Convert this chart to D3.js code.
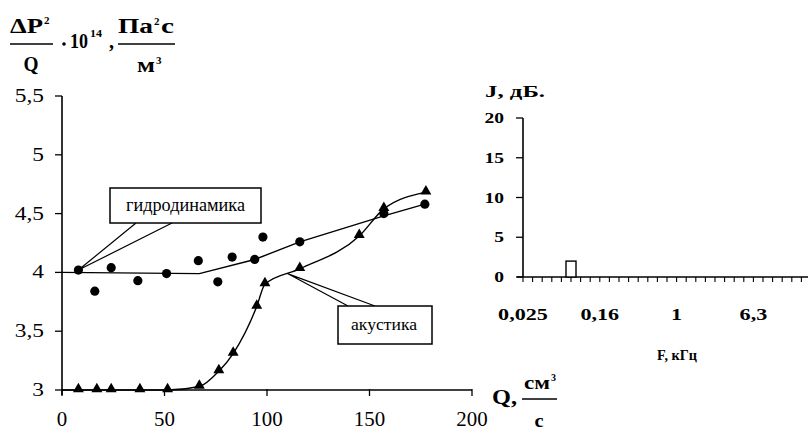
<!DOCTYPE html>
<html><head><meta charset="utf-8">
<script src="https://cdn.jsdelivr.net/npm/d3@7"></script>
<style>
html,body{margin:0;padding:0;background:#fff;}
svg text{font-family:"Liberation Serif","Tinos","Times New Roman",serif !important;}
</style>
</head><body>
<svg id="c" width="808" height="435"></svg>
<script>
// ---- Left chart data ----
const hydroQ = [8, 16, 24, 37, 51, 66.5, 76, 83, 94, 98, 116, 157, 177];
const hydroV = [4.02, 3.84, 4.04, 3.93, 3.99, 4.10, 3.92, 4.13, 4.11, 4.30, 4.26, 4.50, 4.58];
const hydroFitQ = [0, 67, 94, 116, 157, 177];
const hydroFitV = [4.0, 3.99, 4.11, 4.26, 4.48, 4.58];
const acQ = [8, 17, 24, 38, 51.5, 67, 76.5, 83.5, 95, 99, 116, 145, 157, 177.5];
const acV = [3.0, 3.0, 3.0, 3.0, 3.0, 3.03, 3.16, 3.31, 3.71, 3.90, 4.03, 4.31, 4.54, 4.68];
const acFitQ = [0, 8, 17, 24, 38, 51.5, 67, 76.5, 83.5, 95, 99, 116, 145, 157, 177.5];
const acFitV = [3.0, 3.0, 3.0, 3.0, 3.0, 3.0, 3.03, 3.16, 3.31, 3.71, 3.90, 4.03, 4.31, 4.54, 4.68];
const leftXTicks = [0, 50, 100, 150, 200];
const leftYTicks = [3, 3.5, 4, 4.5, 5, 5.5];
const leftYTickLabels = ["3", "3,5", "4", "4,5", "5", "5,5"];
const annotText = ["гидродинамика", "акустика"];
const annotQ = [8, 110];
const annotV = [4.02, 3.99];

// ---- Right chart data ----
const bands = ["0,025","0,0315","0,04","0,05","0,063","0,08","0,1","0,125","0,16","0,2","0,25","0,315","0,4","0,5","0,63","0,8","1","1,25","1,6","2","2,5","3,15","4","5","6,3","8","10","12,5","16","20","25"];
const levels = [0,0,0,0,0,2,0,0,0,0,0,0,0,0,0,0,0,0,0,0,0,0,0,0,0,0,0,0,0,0,0];
const bandLabelsShown = ["0,025","0,16","1","6,3"];
const rightYTicks = [0, 5, 10, 15, 20];

const svg = d3.select("#c");

function label(parent, str, x, y, o) {
  const t = parent.append("text")
    .attr("x", x).attr("y", y)
    .attr("font-family", "Liberation Serif")
    .style("font-size", o.size + "px")
    .attr("text-anchor", o.anchor || "start")
    .text(str);
  if (o.bold) t.style("font-weight", "bold");
  let w = o.width;
  if (!w && o.sx) w = t.node().getComputedTextLength() * o.sx;
  if (w) t.attr("textLength", w).attr("lengthAdjust", "spacingAndGlyphs");
  return t;
}

// ===== Left chart =====
const x = d3.scaleLinear().domain([0, 200]).range([62, 472]);
const y = d3.scaleLinear().domain([3, 5.5]).range([390, 96]);
const L = svg.append("g");

L.append("line").attr("x1", x(0)).attr("x2", x(0)).attr("y1", y(5.5)).attr("y2", y(3) + 5)
  .attr("stroke", "#000").attr("stroke-width", 1.6);
L.append("line").attr("x1", x(0)).attr("x2", x(200)).attr("y1", y(3)).attr("y2", y(3))
  .attr("stroke", "#000").attr("stroke-width", 1.6);
L.selectAll(".yt").data(leftYTicks).enter().append("line")
  .attr("x1", x(0) - 7).attr("x2", x(0)).attr("y1", d => y(d)).attr("y2", d => y(d))
  .attr("stroke", "#000").attr("stroke-width", 1.3);
L.selectAll(".xt").data(leftXTicks).enter().append("line")
  .attr("x1", d => x(d)).attr("x2", d => x(d)).attr("y1", y(3) - 1).attr("y2", y(3) + 6)
  .attr("stroke", "#000").attr("stroke-width", 1.3);
leftYTicks.forEach((v, i) => label(L, leftYTickLabels[i], 44, y(v) + 6, {size: 18, sx: 1.3, anchor: "end"}));
leftXTicks.forEach(v => label(L, String(v), x(v), 426, {size: 22, sx: 0.95, anchor: "middle"}));

const hydroFit = hydroFitQ.map((q, i) => [q, hydroFitV[i]]);
const acFit = acFitQ.map((q, i) => [q, acFitV[i]]);
L.append("path").datum(hydroFit)
  .attr("d", d3.line().x(d => x(d[0])).y(d => y(d[1])))
  .attr("fill", "none").attr("stroke", "#000").attr("stroke-width", 1.4);
L.append("path").datum(acFit)
  .attr("d", d3.line().x(d => x(d[0])).y(d => y(d[1])).curve(d3.curveMonotoneX))
  .attr("fill", "none").attr("stroke", "#000").attr("stroke-width", 1.4);

L.selectAll(".c").data(hydroQ.map((q, i) => [q, hydroV[i]])).enter().append("circle")
  .attr("cx", d => x(d[0])).attr("cy", d => y(d[1])).attr("r", 4.6).attr("fill", "#000");
const tri = d3.symbol().type(d3.symbolTriangle).size(52);
L.selectAll(".t").data(acQ.map((q, i) => [q, acV[i]])).enter().append("path")
  .attr("d", tri).attr("transform", d => `translate(${x(d[0])},${y(d[1]) - 1})`).attr("fill", "#000");

const boxes = [
  {x0: 110, y0: 188, w: 151, h: 35, a: 136, b: 172, tx: 185.5, ty: 211, fs: 18, tw: 119, bottom: true},
  {x0: 338, y0: 306, w: 94, h: 38, a: 348, b: 375, tx: 384, ty: 330, fs: 16, tw: 66, bottom: false}
];
boxes.forEach((bx, i) => {
  const px = x(annotQ[i]), py = y(annotV[i]);
  const ey = bx.bottom ? bx.y0 + bx.h : bx.y0;
  L.append("path").attr("d", `M${bx.a},${ey}L${px},${py}L${bx.b},${ey}`)
    .attr("fill", "none").attr("stroke", "#000").attr("stroke-width", 1.2);
  L.append("rect").attr("x", bx.x0).attr("y", bx.y0).attr("width", bx.w).attr("height", bx.h)
    .attr("fill", "#fff").attr("stroke", "#000").attr("stroke-width", 1.5);
  label(L, annotText[i], bx.tx, bx.ty, {size: bx.fs, width: bx.tw, anchor: "middle"});
});

const T = svg.append("g");
label(T, "ΔP", 10, 33, {size: 20, bold: true, width: 33});
label(T, "2", 44, 24, {size: 11, bold: true});
T.append("line").attr("x1", 10).attr("x2", 53).attr("y1", 44).attr("y2", 44).attr("stroke", "#000").attr("stroke-width", 1.5);
label(T, "Q", 31, 71, {size: 20, bold: true, anchor: "middle", width: 15});
T.append("circle").attr("cx", 64).attr("cy", 44).attr("r", 1.8).attr("fill", "#000");
label(T, "10", 70, 48, {size: 21, bold: true, width: 18});
label(T, "14", 90, 37, {size: 11, bold: true, width: 12});
label(T, ",", 109, 48, {size: 20, bold: true});
label(T, "Па", 118, 33, {size: 20, bold: true, width: 35});
label(T, "2", 154, 25, {size: 11, bold: true});
label(T, "с", 161, 33, {size: 20, bold: true, width: 13});
T.append("line").attr("x1", 118).attr("x2", 175).attr("y1", 44).attr("y2", 44).attr("stroke", "#000").attr("stroke-width", 1.5);
label(T, "м", 137, 72, {size: 21, bold: true, width: 18});
label(T, "3", 156, 64, {size: 11, bold: true});

label(T, "Q,", 492, 404, {size: 20, bold: true, width: 25});
label(T, "см", 524, 389, {size: 18, bold: true, width: 26});
label(T, "3", 551, 381, {size: 10, bold: true});
T.append("line").attr("x1", 522).attr("x2", 557).attr("y1", 399).attr("y2", 399).attr("stroke", "#000").attr("stroke-width", 1.5);
label(T, "с", 539, 427, {size: 18, bold: true, anchor: "middle", width: 9});

// ===== Right chart =====
const xb = d3.scalePoint().domain(bands).range([523, 523 + 9.6 * (bands.length - 1)]);
const yr = d3.scaleLinear().domain([0, 20]).range([277, 118]);
const R = svg.append("g");
R.append("line").attr("x1", 517).attr("x2", 808).attr("y1", yr(0)).attr("y2", yr(0))
  .attr("stroke", "#000").attr("stroke-width", 1.6);
R.append("line").attr("x1", 523).attr("x2", 523).attr("y1", yr(20)).attr("y2", yr(0))
  .attr("stroke", "#000").attr("stroke-width", 1.6);
R.selectAll(".yt").data(rightYTicks).enter().append("line")
  .attr("x1", 516).attr("x2", 523).attr("y1", d => yr(d)).attr("y2", d => yr(d))
  .attr("stroke", "#000").attr("stroke-width", 1.3);
R.selectAll(".xt").data(bands).enter().append("line")
  .attr("x1", d => xb(d)).attr("x2", d => xb(d)).attr("y1", yr(0)).attr("y2", yr(0) + 5)
  .attr("stroke", "#000").attr("stroke-width", 1.1);
rightYTicks.forEach(v => label(R, String(v), 504, yr(v) + 5, {size: 15, bold: true, sx: 1.3, anchor: "end"}));
bandLabelsShown.forEach(b => label(R, b, xb(b), 320, {size: 17, bold: true, sx: 1.3, anchor: "middle"}));
R.selectAll(".bar").data(bands.map((b, i) => [b, levels[i]]).filter(d => d[1] > 0)).enter().append("rect")
  .attr("x", d => xb(d[0]) - 5).attr("width", 10)
  .attr("y", d => yr(d[1])).attr("height", d => yr(0) - yr(d[1]))
  .attr("fill", "#fff").attr("stroke", "#000").attr("stroke-width", 1.4);
label(R, "J, дБ.", 485, 97, {size: 17, bold: true, width: 60});
label(R, "F, кГц", 657, 360, {size: 15, bold: true, width: 40});
</script>
</body></html>
